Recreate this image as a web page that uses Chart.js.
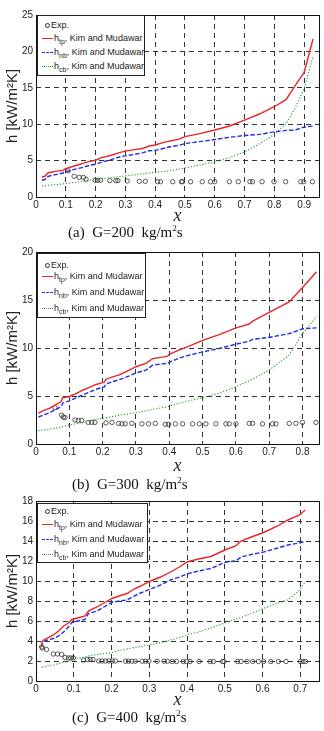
<!DOCTYPE html>
<html><head><meta charset="utf-8">
<script src="https://cdn.jsdelivr.net/npm/chart.js@4.4.1/dist/chart.umd.min.js"></script>
<style>
html,body{margin:0;padding:0;background:#fff;width:324px;height:731px;overflow:hidden;}
canvas{position:absolute;left:0;}
.cap{position:absolute;font-family:"Liberation Serif","Times New Roman",serif;font-size:15px;line-height:17px;color:#111;white-space:pre;}
.cap sup{font-size:9px;vertical-align:6px;line-height:0;}
.leg{position:absolute;border:1px solid #222;background:#fff;box-sizing:border-box;font-family:"Liberation Sans",Arial,sans-serif;font-size:9px;color:#222;}
.row{position:absolute;left:0;height:12px;line-height:12px;white-space:nowrap;}
.row .t{position:absolute;left:16px;top:0;}
.row .t sub{font-size:7px;vertical-align:-3px;line-height:0;}
.row .s{position:absolute;left:4px;width:11px;top:6px;}
.row .c{position:absolute;left:7px;top:4px;width:3px;height:3px;border:1px solid #333;border-radius:50%;}
</style></head>
<body>
<canvas id="c1" width="324" height="225" style="top:0px"></canvas>
<canvas id="c2" width="324" height="235" style="top:240px"></canvas>
<canvas id="c3" width="324" height="219" style="top:490px"></canvas>
<div class="cap" style="left:68px;top:224px">(a)  G=200  kg/m<sup>2</sup>s</div>
<div class="cap" style="left:72px;top:476px">(b)  G=300  kg/m<sup>2</sup>s</div>
<div class="cap" style="left:72px;top:709px">(c)  G=400  kg/m<sup>2</sup>s</div>
<div id="legends"></div>
<script>
// ---------- Plot (a) G=200 ----------
const x1 = [0.02,0.03,0.04,0.05,0.07,0.09,0.1,0.12,0.14,0.16,0.18,0.2,0.22,0.25,0.28,0.3,0.33,0.36,0.38,0.4,0.42,0.45,0.48,0.5,0.55,0.6,0.65,0.7,0.75,0.8,0.84,0.87,0.9,0.93];
const tp1 = [2.75,2.85,3.3,3.4,3.55,3.65,3.9,4.15,4.4,4.65,4.9,5.05,5.4,5.7,6.1,6.3,6.5,6.7,7.0,7.15,7.4,7.7,7.95,8.3,8.7,9.2,9.75,10.55,11.4,12.4,13.4,15.3,17.1,21.7];
const nb1 = [2.3,2.4,2.8,2.95,3.1,3.3,3.45,3.7,3.9,4.1,4.35,4.5,4.8,5.1,5.5,5.65,5.85,6.1,6.35,6.4,6.6,6.9,7.1,7.35,7.6,7.9,8.2,8.45,8.6,8.95,9.15,9.2,9.6,9.75];
const cb1 = [1.5,1.55,1.6,1.65,1.7,1.8,1.85,1.95,2.05,2.15,2.3,2.4,2.5,2.65,2.8,2.9,3.05,3.2,3.3,3.4,3.5,3.6,3.85,4.0,4.4,4.85,5.4,6.2,7.3,8.6,10.1,12.2,14.9,19.3];
const expX1 = [0.108,0.128,0.145,0.159,0.168,0.199,0.208,0.217,0.248,0.268,0.275,0.306,0.347,0.367,0.408,0.418,0.459,0.488,0.492,0.519,0.558,0.586,0.6,0.649,0.679,0.718,0.727,0.759,0.799,0.838,0.889,0.899,0.928];
const expY1 = [3.6,2.85,2.7,2.7,2.45,2.3,2.3,2.3,2.25,2.25,2.25,2.2,2.15,2.15,2.1,2.1,2.1,2.1,2.1,2.1,2.1,2.1,2.1,2.1,2.1,2.1,2.1,2.1,2.1,2.1,2.1,2.1,2.1];

// ---------- Plot (b) G=300 ----------
const x2 = [0.007,0.02,0.04,0.06,0.075,0.08,0.1,0.12,0.14,0.16,0.18,0.2,0.205,0.21,0.23,0.25,0.28,0.3,0.33,0.35,0.38,0.395,0.4,0.43,0.46,0.5,0.55,0.6,0.64,0.65,0.7,0.76,0.8,0.842];
const tp2 = [3.2,3.45,3.7,4.1,4.4,4.8,4.95,5.25,5.6,5.9,6.2,6.4,6.45,6.75,7.0,7.2,7.7,8.05,8.4,8.9,9.05,9.15,9.35,9.8,10.2,10.8,11.4,12.1,12.5,12.8,13.7,14.8,16.3,17.95];
const nb2 = [2.8,3.0,3.25,3.6,3.9,4.25,4.5,4.8,5.1,5.4,5.7,5.9,5.95,6.25,6.5,6.7,7.1,7.4,7.7,8.2,8.35,8.4,8.5,8.95,9.25,9.6,9.95,10.4,10.7,10.9,11.1,11.5,12.0,12.1];
const cb2 = [1.39,1.45,1.55,1.65,1.75,1.8,1.98,2.1,2.25,2.4,2.55,2.67,2.7,2.72,2.85,3.0,3.15,3.26,3.45,3.6,3.8,3.89,3.95,4.24,4.5,4.83,5.3,5.95,6.6,6.75,7.7,9.27,11.5,13.26];
const expX2 = [0.057,0.077,0.082,0.087,0.117,0.127,0.137,0.157,0.167,0.177,0.21,0.228,0.248,0.258,0.268,0.288,0.318,0.338,0.358,0.388,0.398,0.418,0.44,0.47,0.49,0.51,0.54,0.57,0.58,0.6,0.64,0.65,0.68,0.71,0.72,0.76,0.78,0.8,0.84];
const expY2 = [3.8,3.0,2.8,2.75,2.5,2.45,2.45,2.25,2.25,2.25,2.2,2.25,2.15,2.1,2.1,2.15,2.1,2.1,2.15,2.05,2.05,2.1,2.1,2.1,2.1,2.1,2.1,2.1,2.1,2.1,2.15,2.15,2.1,2.1,2.1,2.15,2.15,2.25,2.25];

// ---------- Plot (c) G=400 ----------
const x3 = [0.015,0.016,0.02,0.03,0.046,0.06,0.073,0.086,0.095,0.11,0.13,0.139,0.161,0.18,0.201,0.22,0.241,0.26,0.277,0.303,0.33,0.356,0.38,0.4,0.43,0.463,0.503,0.529,0.543,0.57,0.603,0.64,0.667,0.698,0.713];
const tp3 = [3.4,3.95,4.1,4.3,4.6,5.0,5.5,5.8,6.15,6.3,6.5,7.0,7.4,7.8,8.25,8.5,8.75,9.2,9.5,10.0,10.4,10.9,11.4,11.9,12.2,12.45,13.15,13.5,14.0,14.4,14.85,15.5,16.1,16.6,17.1];
const nb3 = [3.4,3.85,3.95,4.1,4.25,4.5,4.9,5.4,5.85,6.0,6.15,6.75,7.0,7.4,7.85,8.0,8.1,8.5,8.8,9.2,9.6,10.1,10.4,10.7,11.0,11.25,11.9,12.0,12.4,12.65,12.9,13.3,13.6,13.8,13.95];
const cb3 = [1.35,1.37,1.4,1.5,1.6,1.75,1.85,2.0,2.1,2.25,2.4,2.5,2.65,2.75,2.85,3.05,3.2,3.35,3.45,3.6,3.85,4.1,4.35,4.6,4.9,5.3,5.83,6.2,6.35,6.75,7.27,7.8,8.1,9.1,9.93];
const expX3 = [0.015,0.017,0.028,0.046,0.057,0.068,0.077,0.086,0.092,0.099,0.126,0.136,0.144,0.151,0.166,0.175,0.184,0.193,0.202,0.21,0.237,0.245,0.254,0.263,0.281,0.29,0.299,0.321,0.339,0.348,0.361,0.372,0.39,0.399,0.408,0.432,0.461,0.47,0.494,0.498,0.534,0.543,0.559,0.574,0.589,0.603,0.622,0.642,0.662,0.7,0.707,0.714];
const expY3 = [3.4,3.3,3.15,2.7,2.7,2.65,2.35,2.3,2.3,2.3,2.1,2.15,2.15,2.15,2.0,2.0,2.0,2.0,2.0,2.0,1.98,1.98,1.98,1.98,1.98,1.98,1.98,1.98,1.98,1.98,1.95,1.95,1.95,1.95,1.95,1.95,1.95,1.95,1.95,1.95,1.95,1.95,1.95,1.95,1.95,1.95,1.95,1.95,1.95,1.95,1.95,1.95];

// ---------- axes / labels ----------
const legendLabels = ['Exp.', 'tp', 'nb', 'cb'];
const legendSuffix = ', Kim and Mudawar';
const yTitle = 'h [kW/m²K]';
const xTitle = 'x';

const RED = '#e8262a', BLUE = '#1f2fe0', GREEN = '#1f9a2a';

function pts(xs, ys){ return xs.map((x,i)=>({x:x, y:ys[i]})); }

const framePlugin = {
  id:'frame',
  afterDraw(chart){
    const a = chart.chartArea, ctx = chart.ctx;
    ctx.save();
    ctx.strokeStyle = '#111';
    ctx.lineWidth = 1;
    ctx.setLineDash([]);
    ctx.strokeRect(Math.round(a.left)+0.5, Math.round(a.top)+0.5, Math.round(a.right-a.left), Math.round(a.bottom-a.top));
    ctx.restore();
  }
};

function makeChart(id, cfg){
  const ds = [
    {data: pts(cfg.ex, cfg.ey), showLine:false, pointStyle:'circle', pointRadius:2.2, pointBorderWidth:0.8, pointBorderColor:'#333', pointBackgroundColor:'rgba(0,0,0,0)', order:4},
    {data: pts(cfg.x, cfg.tp), showLine:true, borderColor:RED, borderWidth:1.4, pointRadius:0, tension:0, order:1},
    {data: pts(cfg.x, cfg.nb), showLine:true, borderColor:BLUE, borderWidth:1.4, borderDash:[4.5,2], pointRadius:0, tension:0, order:2},
    {data: pts(cfg.x, cfg.cb), showLine:true, borderColor:GREEN, borderWidth:1.1, borderDash:[1.2,1.8], pointRadius:0, tension:0, order:3}
  ];
  const tickFont = {family:'"Liberation Sans", Arial, sans-serif', size:10};
  return new Chart(document.getElementById(id), {
    type:'scatter',
    data:{datasets:ds},
    plugins:[framePlugin],
    options:{
      responsive:false, animation:false, devicePixelRatio:1,
      layout:{padding:{top:cfg.padTop, right:cfg.padRight, left:0, bottom:0}},
      plugins:{legend:{display:false}, tooltip:{enabled:false}},
      scales:{
        x:{type:'linear', min:0, max:cfg.xmax,
          ticks:{stepSize:0.1, includeBounds:false, color:'#222', font:tickFont, padding:2, maxRotation:0},
          grid:{color:'#333', lineWidth:1, drawTicks:false},
          border:{display:false, dash:[5,4]},
          title:{display:true, text:xTitle, color:'#222', font:{family:'"Liberation Serif","Times New Roman",serif', size:18, style:'italic', lineHeight:1}, padding:{top:0,bottom:0}},
          afterFit(s){ s.height = cfg.xh; }
        },
        y:{type:'linear', min:0, max:cfg.ymax,
          ticks:{stepSize:cfg.ystep, color:'#222', font:tickFont, padding:3},
          grid:{color:'#333', lineWidth:1, drawTicks:false},
          border:{display:false, dash:[5,4]},
          title:{display:true, text:yTitle, color:'#222', font:{family:'"Liberation Sans", Arial, sans-serif', size:15, lineHeight:1.2}, padding:{top:4,bottom:0}},
          afterFit(s){ s.width = 36; }
        }
      }
    }
  });
}

makeChart('c1', {x:x1, tp:tp1, nb:nb1, cb:cb1, ex:expX1, ey:expY1, xmax:0.95, ymax:25, ystep:5, padTop:15, padRight:5, xh:28});
makeChart('c2', {x:x2, tp:tp2, nb:nb2, cb:cb2, ex:expX2, ey:expY2, xmax:0.85, ymax:20, ystep:5, padTop:12, padRight:4, xh:31});
makeChart('c3', {x:x3, tp:tp3, nb:nb3, cb:cb3, ex:expX3, ey:expY3, xmax:0.75, ymax:18, ystep:2, padTop:11, padRight:4, xh:28});

// ---------- legends (HTML boxes inside the plot areas) ----------
const legendBoxes = [
  {left:37, top:15, w:108, h:61, rows:[3,16,30,44]},
  {left:37, top:253, w:109, h:65, rows:[5,16,32,48]},
  {left:37, top:503, w:111, h:60, rows:[1,14,29,44]}
];
const sampleStyles = [null, 'border-top:1.5px solid '+RED, 'border-top:1.5px dashed '+BLUE, 'border-top:1.3px dotted '+GREEN];
const host = document.getElementById('legends');
legendBoxes.forEach(b=>{
  const box = document.createElement('div');
  box.className = 'leg';
  box.style.cssText = `left:${b.left}px;top:${b.top}px;width:${b.w}px;height:${b.h}px;`;
  legendLabels.forEach((lab,i)=>{
    const row = document.createElement('div');
    row.className = 'row';
    row.style.top = b.rows[i]+'px';
    row.style.width = b.w+'px';
    if(i===0){
      row.innerHTML = `<span class="c"></span><span class="t" style="left:13px">${lab}</span>`;
    } else {
      row.innerHTML = `<span class="s" style="${sampleStyles[i]}"></span><span class="t">h<sub>${lab}</sub>${legendSuffix}</span>`;
    }
    box.appendChild(row);
  });
  host.appendChild(box);
});
</script>
</body></html>
